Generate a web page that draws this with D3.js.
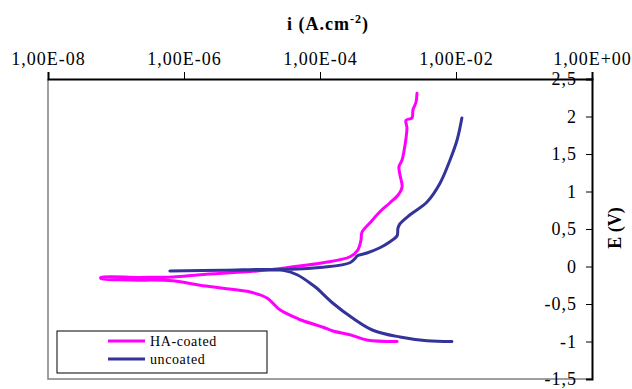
<!DOCTYPE html>
<html>
<head>
<meta charset="utf-8">
<script src="https://cdn.jsdelivr.net/npm/d3@7"></script>
<style>
  body { margin: 0; background: #fff; }
  text { font-family: "Liberation Serif", "Times New Roman", serif; }
</style>
</head>
<body>
<svg width="632" height="389"></svg>
<script>
// ---------------- data: [i (A.cm-2), E (V)] ----------------
const xTicks = [1e-8, 1e-6, 1e-4, 1e-2, 1];
const yTicks = [-1.5, -1, -0.5, 0, 0.5, 1, 1.5, 2, 2.5];
const seriesNames = ["HA-coated", "uncoated"];

// HA-coated : cathodic branch (from -1 V up to Ecorr), then anodic branch
const haCathodic = [
  [1.36e-3, -1.0], [4.9e-4, -0.98], [2.76e-4, -0.91], [1.55e-4, -0.86], [1.11e-4, -0.81],
  [5.1e-5, -0.71], [4.6e-5, -0.69], [2.6e-5, -0.58], [1.66e-5, -0.42], [9.4e-6, -0.34],
  [3.75e-6, -0.29], [1.72e-6, -0.25], [6.9e-7, -0.19], [1.6e-7, -0.18], [6.0e-8, -0.16]
];
const haAnodic = [
  [6.0e-8, -0.145], [2.25e-7, -0.145], [6.9e-7, -0.14], [1.72e-6, -0.11], [1.19e-5, -0.06],
  [3.6e-5, -0.01], [1.11e-4, 0.05], [2.76e-4, 0.13], [3.6e-4, 0.22], [4.0e-4, 0.35],
  [4.15e-4, 0.46], [5.4e-4, 0.58], [7.6e-4, 0.73], [1.07e-3, 0.85], [1.40e-3, 0.95],
  [1.61e-3, 1.06], [1.50e-3, 1.22], [1.45e-3, 1.33], [1.61e-3, 1.42], [1.78e-3, 1.62],
  [1.84e-3, 1.71], [1.90e-3, 1.85], [1.84e-3, 1.95], [2.25e-3, 1.98], [2.33e-3, 2.09],
  [2.58e-3, 2.19], [2.67e-3, 2.31]
];

// uncoated
const unCathodic = [
  [8.7e-3, -1.0], [3.75e-3, -0.99], [1.5e-3, -0.94], [6.0e-4, -0.85], [3.05e-4, -0.69],
  [1.55e-4, -0.49], [9.0e-5, -0.29], [7.9e-5, -0.25], [4.6e-5, -0.11], [2.86e-5, -0.05],
  [3.75e-6, -0.05], [6.2e-7, -0.06]
];
const unAnodic = [
  [6.2e-7, -0.06], [3.75e-6, -0.05], [2.86e-5, -0.04], [1.11e-4, -0.01], [2.76e-4, 0.05],
  [3.3e-4, 0.11], [3.5e-4, 0.14], [4.9e-4, 0.18], [7.6e-4, 0.25], [1.07e-3, 0.33],
  [1.36e-3, 0.41], [1.40e-3, 0.51], [1.5e-3, 0.57], [2.11e-3, 0.69], [3.75e-3, 0.86],
  [5.82e-3, 1.11], [8.17e-3, 1.42], [1.04e-2, 1.69], [1.22e-2, 1.98]
];

const colors = ["#ff00ff", "#333399"];

// ---------------- scales ----------------
const pLeft = 48, pRight = 592, pTop = 79, pBottom = 379;
const x = d3.scaleLog().domain([1e-8, 1]).range([pLeft, pRight]);
const y = d3.scaleLinear().domain([-1.5, 2.5]).range([pBottom, pTop]);

const svg = d3.select("svg");

// plot frame (left / bottom in grey)
svg.append("path")
  .attr("d", `M${pLeft},${pTop}V${pBottom}H${pRight}`)
  .attr("fill", "none").attr("stroke", "#808080").attr("stroke-width", 1.5);

// curves
const line = d3.line().x(d => x(d[0])).y(d => y(d[1])).curve(d3.curveCatmullRom.alpha(0.5));
const curves = [
  haCathodic.concat(haAnodic),
  unCathodic.concat(unAnodic)
];
[0, 1].forEach(k => {
  svg.append("path")
    .datum(curves[k])
    .attr("fill", "none")
    .attr("stroke", colors[k])
    .attr("stroke-width", 3)
    .attr("stroke-linejoin", "round")
    .attr("stroke-linecap", "round")
    .attr("d", line);
});

// top axis
const fmtX = d => {
  const e = Math.round(Math.log10(d));
  return "1,00E" + (e < 0 ? "-" : "+") + String(Math.abs(e)).padStart(2, "0");
};
const gx = svg.append("g")
  .attr("transform", `translate(0,${pTop})`)
  .call(d3.axisTop(x).tickValues(xTicks).tickFormat(fmtX).tickSize(7).tickPadding(7));
gx.select(".domain").attr("stroke-width", 2).attr("stroke", "#000");
gx.selectAll("text").attr("font-size", 18).attr("letter-spacing", "1px")
  .attr("font-family", "Liberation Serif").attr("fill", "#000");

// right axis (labels inside, to the left)
const gy = svg.append("g")
  .attr("transform", `translate(${pRight},0)`)
  .call(d3.axisLeft(y).tickValues(yTicks).tickFormat(d => String(d).replace(".", ",")).tickSize(6).tickPadding(9));
gy.select(".domain").attr("stroke-width", 2).attr("stroke", "#000");
gy.selectAll("text").attr("font-size", 18).attr("letter-spacing", "1px")
  .attr("font-family", "Liberation Serif").attr("fill", "#000");

// axis titles
const title = svg.append("text")
  .attr("x", 328).attr("y", 30)
  .attr("text-anchor", "middle")
  .attr("font-size", 18).attr("font-weight", "bold").attr("letter-spacing", "1px");
title.append("tspan").text("i (A.cm");
title.append("tspan").attr("font-size", 12).attr("dy", -7).text("-2");
title.append("tspan").attr("dy", 7).text(")");

svg.append("text")
  .attr("transform", "translate(615,228) rotate(-90)")
  .attr("text-anchor", "middle").attr("dominant-baseline", "central")
  .attr("font-size", 18).attr("font-weight", "bold")
  .text("E (V)");

// legend
const lg = svg.append("g");
lg.append("rect").attr("x", 57).attr("y", 331).attr("width", 210).attr("height", 42)
  .attr("fill", "#fff").attr("stroke", "#000").attr("stroke-width", 1);
seriesNames.forEach((name, k) => {
  const ly = 341 + k * 18;
  lg.append("line").attr("x1", 108).attr("x2", 145).attr("y1", ly).attr("y2", ly)
    .attr("stroke", colors[k]).attr("stroke-width", 3);
  lg.append("text").attr("x", 150).attr("y", ly).attr("dominant-baseline", "central")
    .attr("font-size", 14).attr("letter-spacing", "0.6px").text(name);
});
</script>
</body>
</html>
